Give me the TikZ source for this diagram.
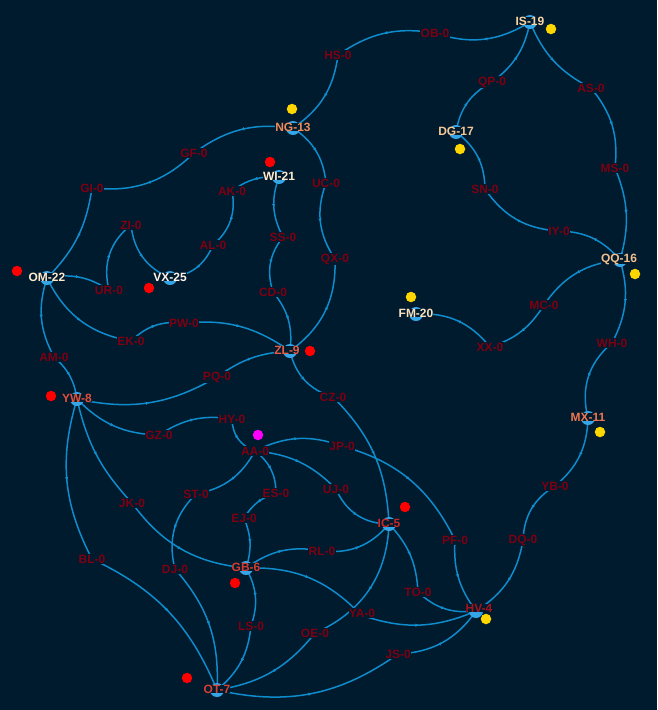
\documentclass[tikz,border=0pt]{standalone}
\usepackage{fontspec}
\newfontfamily\labfont{Liberation Sans}
\usetikzlibrary{decorations.markings,arrows.meta}
\definecolor{bgc}{RGB}{0,26,46}
\definecolor{edgec}{RGB}{14,140,204}
\definecolor{nodec}{RGB}{52,165,230}
\definecolor{midc}{RGB}{125,0,18}
\definecolor{dotred}{RGB}{255,0,0}
\definecolor{dotyel}{RGB}{255,215,0}
\definecolor{dotmag}{RGB}{255,0,255}
\definecolor{cIS}{RGB}{250,212,165}
\definecolor{cNG}{RGB}{240,140,90}
\definecolor{cWI}{RGB}{255,236,205}
\definecolor{cOM}{RGB}{255,234,205}
\definecolor{cVX}{RGB}{255,245,235}
\definecolor{cDG}{RGB}{246,200,150}
\definecolor{cQQ}{RGB}{245,192,140}
\definecolor{cFM}{RGB}{250,226,192}
\definecolor{cZL}{RGB}{230,92,70}
\definecolor{cYW}{RGB}{225,80,60}
\definecolor{cMX}{RGB}{240,118,80}
\definecolor{cIC}{RGB}{200,40,40}
\definecolor{cGB}{RGB}{212,60,48}
\definecolor{cOT}{RGB}{215,64,50}
\definecolor{cHV}{RGB}{165,20,30}
\begin{document}
\begin{tikzpicture}[x=1pt,y=1pt,
  edge/.style={edgec, line width=1.5pt, postaction={decorate},
    decoration={markings, mark=at position 0.5 with {\arrow{Latex[length=3.5pt,width=3.5pt]}}}},
  hub/.style={circle, fill=nodec, minimum size=14pt, inner sep=0pt},
  dot/.style={circle, minimum size=10.5pt, inner sep=0pt},
  lab/.style={font=\labfont\bfseries\fontsize{12}{14}\selectfont, fill=bgc, inner sep=0pt},
  mid/.style={lab, text=midc, inner sep=0.3pt}]
\fill[bgc] (0,0) rectangle (657,-710);
\useasboundingbox (0,0) rectangle (657,-710);
% main nodes
\coordinate (IS19) at (530,-22);
\coordinate (NG13) at (293,-128);
\coordinate (WI21) at (279,-177);
\coordinate (OM22) at (47,-278);
\coordinate (VX25) at (170,-278);
\coordinate (DG17) at (456,-132);
\coordinate (QQ16) at (620,-260);
\coordinate (FM20) at (416,-314);
\coordinate (ZL9) at (290,-351);
\coordinate (YW8) at (77,-399);
\coordinate (MX11) at (588,-418);
\coordinate (IC5) at (389,-524);
\coordinate (GB6) at (246,-568);
\coordinate (OT7) at (217,-690);
\coordinate (HV4) at (476,-611);
% intermediate nodes
\coordinate (OB) at (435,-33);
\coordinate (HS) at (338,-55);
\coordinate (QP) at (492,-82);
\coordinate (AS) at (591,-88);
\coordinate (MS) at (615,-168);
\coordinate (SN) at (485,-189);
\coordinate (IY) at (559,-231);
\coordinate (GF) at (194,-153);
\coordinate (GI) at (92,-188);
\coordinate (AK) at (232,-191);
\coordinate (UC) at (326,-183);
\coordinate (ZI) at (131,-225);
\coordinate (AL) at (213,-245);
\coordinate (SS) at (283,-237);
\coordinate (QX) at (335,-259);
\coordinate (UR) at (109,-290);
\coordinate (CD) at (273,-292);
\coordinate (MC) at (544,-305);
\coordinate (PW) at (184,-323);
\coordinate (EK) at (131,-341);
\coordinate (XX) at (490,-347);
\coordinate (WH) at (612,-343);
\coordinate (AM) at (54,-357);
\coordinate (PQ) at (217,-377);
\coordinate (CZ) at (333,-397);
\coordinate (HY) at (232,-419);
\coordinate (GZ) at (159,-435);
\coordinate (AA) at (255,-451);
\coordinate (JP) at (342,-446);
\coordinate (UJ) at (336,-489);
\coordinate (YB) at (555,-486);
\coordinate (ST) at (196,-494);
\coordinate (ES) at (276,-493);
\coordinate (JK) at (132,-503);
\coordinate (EJ) at (244,-518);
\coordinate (RL) at (322,-551);
\coordinate (PF) at (455,-540);
\coordinate (DQ) at (523,-540);
\coordinate (BL) at (92,-559);
\coordinate (DJ) at (175,-569);
\coordinate (TO) at (418,-592);
\coordinate (YA) at (361,-615);
\coordinate (LS) at (251,-626);
\coordinate (OE) at (315,-633);
\coordinate (JS) at (398,-654);
% edges
\draw[edge] (IS19) to[bend left=25] (OB);
\draw[edge] (OB) to[bend right=22] (HS);
\draw[edge] (HS) to[bend left=24] (NG13);
\draw[edge] (NG13) to[bend right=22] (GF);
\draw[edge] (GF) to[bend left=25] (GI);
\draw[edge] (GI) to[bend left=18] (OM22);
\draw[edge] (NG13) to[bend left=25] (UC);
\draw[edge] (UC) to[bend right=27] (QX);
\draw[edge] (QX) to[bend left=28] (ZL9);
\draw[edge] (WI21) to[bend right=20] (AK);
\draw[edge] (AK) to[bend left=30] (AL);
\draw[edge] (AL) to[bend left=30] (VX25);
\draw[edge] (WI21) to[bend right=24] (SS);
\draw[edge] (SS) to[bend right=28] (CD);
\draw[edge] (CD) to[bend left=23] (ZL9);
\draw[edge] (OM22) to[bend left=22] (UR);
\draw[edge] (UR) to[bend left=33] (ZI);
\draw[edge] (ZI) to[bend right=30] (VX25);
\draw[edge] (OM22) to[bend right=27] (EK);
\draw[edge] (EK) to[bend left=25] (PW);
\draw[edge] (PW) to[bend left=20] (ZL9);
\draw[edge] (OM22) to[bend right=23] (AM);
\draw[edge] (AM) to[bend left=20] (YW8);
\draw[edge] (YW8) to[bend right=21] (PQ);
\draw[edge] (PQ) to[bend left=16] (ZL9);
\draw[edge] (ZL9) to[bend right=30] (CZ);
\draw[edge] (CZ) to[bend left=21] (IC5);
\draw[edge] (YW8) to[bend right=22] (GZ);
\draw[edge] (GZ) to[bend left=21] (HY);
\draw[edge] (HY) to[bend right=35] (AA);
\draw[edge] (AA) to[bend left=23] (JP);
\draw[edge] (JP) to[bend left=24] (PF);
\draw[edge] (PF) to[bend right=20] (HV4);
\draw[edge] (AA) to[bend left=20] (UJ);
\draw[edge] (UJ) to[bend right=33] (IC5);
\draw[edge] (AA) to[bend left=26] (ES);
\draw[edge] (ES) to[bend right=20] (EJ);
\draw[edge] (EJ) to[bend left=20] (GB6);
\draw[edge] (AA) to[bend left=25] (ST);
\draw[edge] (ST) to[bend right=30] (DJ);
\draw[edge] (DJ) to[bend left=22] (OT7);
\draw[edge] (YW8) to[bend right=15] (JK);
\draw[edge] (JK) to[bend right=24] (GB6);
\draw[edge] (YW8) to[bend right=22] (BL);
\draw[edge] (BL) to[bend left=21] (OT7);
\draw[edge] (GB6) to[bend left=24] (LS);
\draw[edge] (LS) to[bend left=22] (OT7);
\draw[edge] (GB6) to[bend left=23] (RL);
\draw[edge] (RL) to[bend right=28] (IC5);
\draw[edge] (GB6) to[bend left=24] (YA);
\draw[edge] (YA) to[bend right=21] (HV4);
\draw[edge] (IC5) to[bend left=32] (OE);
\draw[edge] (OE) to[bend left=21] (OT7);
\draw[edge] (OT7) to[bend right=24] (JS);
\draw[edge] (JS) to[bend right=26] (HV4);
\draw[edge] (IC5) to[bend left=20] (TO);
\draw[edge] (TO) to[bend right=25] (HV4);
\draw[edge] (MX11) to[bend left=24] (YB);
\draw[edge] (YB) to[bend right=28] (DQ);
\draw[edge] (DQ) to[bend left=24] (HV4);
\draw[edge] (QQ16) to[bend left=22] (WH);
\draw[edge] (WH) to[bend right=32] (MX11);
\draw[edge] (QQ16) to[bend right=25] (MC);
\draw[edge] (MC) to[bend left=20] (XX);
\draw[edge] (XX) to[bend right=27] (FM20);
\draw[edge] (QQ16) to[bend right=24] (IY);
\draw[edge] (IY) to[bend left=26] (SN);
\draw[edge] (SN) to[bend right=26] (DG17);
\draw[edge] (DG17) to[bend left=26] (QP);
\draw[edge] (QP) to[bend right=21] (IS19);
\draw[edge] (IS19) to[bend right=20] (AS);
\draw[edge] (AS) to[bend left=23] (MS);
\draw[edge] (MS) to[bend left=19] (QQ16);
% hub circles
\foreach \n in {IS19,NG13,WI21,OM22,VX25,DG17,QQ16,FM20,ZL9,YW8,MX11,IC5,GB6,OT7,HV4}
  \node[hub] (c\n) at (\n) {};
% marker dots
\node[dot, fill=dotyel] (dIS19) at (551,-29) {};
\node[dot, fill=dotyel] (dNG13) at (292,-109) {};
\node[dot, fill=dotred] (dWI21) at (270,-162) {};
\node[dot, fill=dotred] (dOM22) at (17,-271) {};
\node[dot, fill=dotred] (dVX25) at (149,-288) {};
\node[dot, fill=dotyel] (dDG17) at (460,-149) {};
\node[dot, fill=dotyel] (dQQ16) at (635,-274) {};
\node[dot, fill=dotyel] (dFM20) at (411,-297) {};
\node[dot, fill=dotred] (dZL9) at (310,-351) {};
\node[dot, fill=dotred] (dYW8) at (51,-396) {};
\node[dot, fill=dotyel] (dMX11) at (600,-432) {};
\node[dot, fill=dotmag] (dAA) at (258,-435) {};
\node[dot, fill=dotred] (dIC5) at (405,-507) {};
\node[dot, fill=dotred] (dGB6) at (235,-583) {};
\node[dot, fill=dotred] (dOT7) at (187,-678) {};
\node[dot, fill=dotyel] (dHV4) at (486,-619) {};
% main labels
\node[lab, text=cIS] (lIS19) at (530,-21) {IS-19};
\node[lab, text=cNG] (lNG13) at (293,-127) {NG-13};
\node[lab, text=cWI] (lWI21) at (279,-176) {WI-21};
\node[lab, text=cOM] (lOM22) at (47,-277) {OM-22};
\node[lab, text=cVX] (lVX25) at (170,-277) {VX-25};
\node[lab, text=cDG] (lDG17) at (456,-131) {DG-17};
\node[lab, text=cQQ] (lQQ16) at (619,-259) {QQ-16};
\node[lab, text=cFM] (lFM20) at (416,-313) {FM-20};
\node[lab, text=cZL] (lZL9) at (287,-350) {ZL-9};
\node[lab, text=cYW] (lYW8) at (77,-398) {YW-8};
\node[lab, text=cMX] (lMX11) at (588,-417) {MX-11};
\node[lab, text=cIC] (lIC5) at (389,-523) {IC-5};
\node[lab, text=cGB] (lGB6) at (246,-567) {GB-6};
\node[lab, text=cOT] (lOT7) at (217,-689) {OT-7};
\node[lab, text=cHV] (lHV4) at (479,-608) {HV-4};
% intermediate labels
\foreach \n in {OB,HS,QP,AS,MS,SN,IY,GF,GI,AK,UC,ZI,AL,SS,QX,UR,CD,MC,PW,EK,XX,WH,AM,PQ,CZ,HY,GZ,AA,JP,UJ,YB,ST,ES,JK,EJ,RL,PF,DQ,BL,DJ,TO,LS,OE,JS}
  \node[mid] (l\n) at (\n) {\n-0};
\node[mid] (lYA) at (362,-613) {YA-0};
\end{tikzpicture}
\end{document}
